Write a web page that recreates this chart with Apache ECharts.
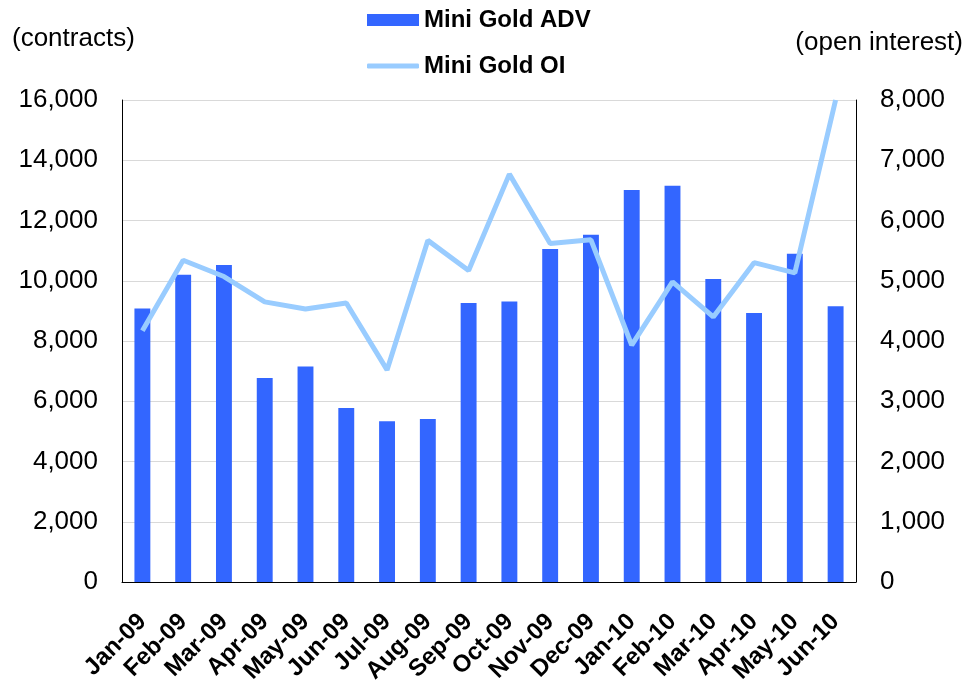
<!DOCTYPE html>
<html>
<head>
<meta charset="utf-8">
<script src="https://cdn.jsdelivr.net/npm/echarts@6/dist/echarts.min.js"></script>
<style>
  html, body { margin: 0; padding: 0; background: #fff; }
  #chart { width: 965px; height: 685px; }
</style>
</head>
<body>
<div id="chart"></div>
<script>
const months = ["Jan-09", "Feb-09", "Mar-09", "Apr-09", "May-09", "Jun-09", "Jul-09", "Aug-09", "Sep-09",
  "Oct-09", "Nov-09", "Dec-09", "Jan-10", "Feb-10", "Mar-10", "Apr-10", "May-10", "Jun-10"];
const advValues = [9080, 10200, 10520, 6770, 7150, 5780, 5340, 5410, 9260,
  9310, 11050, 11530, 13010, 13150, 10060, 8930, 10900, 9150];
const oiValues = [4170, 5340, 5070, 4650, 4530, 4630, 3520, 5670, 5170,
  6770, 5620, 5680, 3930, 4980, 4400, 5300, 5130, 8000];

const FONT = "'Liberation Sans', Arial, sans-serif";
const fmt = (v) => v.toLocaleString("en-US");
const legendText = { fontSize: 24, fontWeight: "bold", color: "#000", fontFamily: FONT };

const chart = echarts.init(document.getElementById("chart"));

chart.setOption({
  animation: false,
  textStyle: { fontFamily: FONT },
  grid: { left: 122, right: 109, top: 100, bottom: 103, outerBoundsMode: "none", containLabel: false },
  legend: [
    {
      data: [{ name: "Mini Gold ADV", icon: "rect" }],
      left: 362,
      top: 3,
      itemWidth: 52,
      itemHeight: 12,
      textStyle: legendText
    },
    {
      data: [{ name: "Mini Gold OI", icon: "roundRect" }],
      left: 362,
      top: 49,
      itemWidth: 52,
      itemHeight: 5,
      textStyle: legendText
    }
  ],
  graphic: [
    {
      type: "text",
      left: 12,
      top: 26,
      style: { text: "(contracts)", font: "26px " + FONT, fill: "#000" }
    },
    {
      type: "text",
      right: 2,
      top: 30,
      style: { text: "(open interest)", font: "26px " + FONT, fill: "#000" }
    }
  ],
  xAxis: {
    type: "category",
    data: months,
    axisLine: { lineStyle: { color: "#000", width: 1 } },
    axisTick: { show: false },
    axisLabel: {
      rotate: 45,
      interval: 0,
      margin: 36,
      fontSize: 24,
      fontWeight: "bold",
      color: "#000",
      fontFamily: FONT
    }
  },
  yAxis: [
    {
      type: "value",
      min: 0,
      max: 16000,
      interval: 2000,
      axisLine: { show: true, lineStyle: { color: "#000", width: 1 } },
      axisTick: { show: false },
      splitLine: { lineStyle: { color: "#d9d9d9", width: 1 } },
      axisLabel: { formatter: fmt, fontSize: 26, color: "#000", margin: 24, fontFamily: FONT }
    },
    {
      type: "value",
      min: 0,
      max: 8000,
      interval: 1000,
      axisLine: { show: true, lineStyle: { color: "#000", width: 1 } },
      axisTick: { show: false },
      splitLine: { show: false },
      axisLabel: { formatter: fmt, fontSize: 26, color: "#000", margin: 24, fontFamily: FONT }
    }
  ],
  series: [
    {
      name: "Mini Gold ADV",
      type: "bar",
      data: advValues,
      barWidth: "39%",
      itemStyle: { color: "#3366ff" }
    },
    {
      name: "Mini Gold OI",
      type: "line",
      yAxisIndex: 1,
      data: oiValues,
      symbol: "none",
      lineStyle: { color: "#99ccff", width: 5 },
      itemStyle: { color: "#99ccff" }
    }
  ]
});
</script>
</body>
</html>
